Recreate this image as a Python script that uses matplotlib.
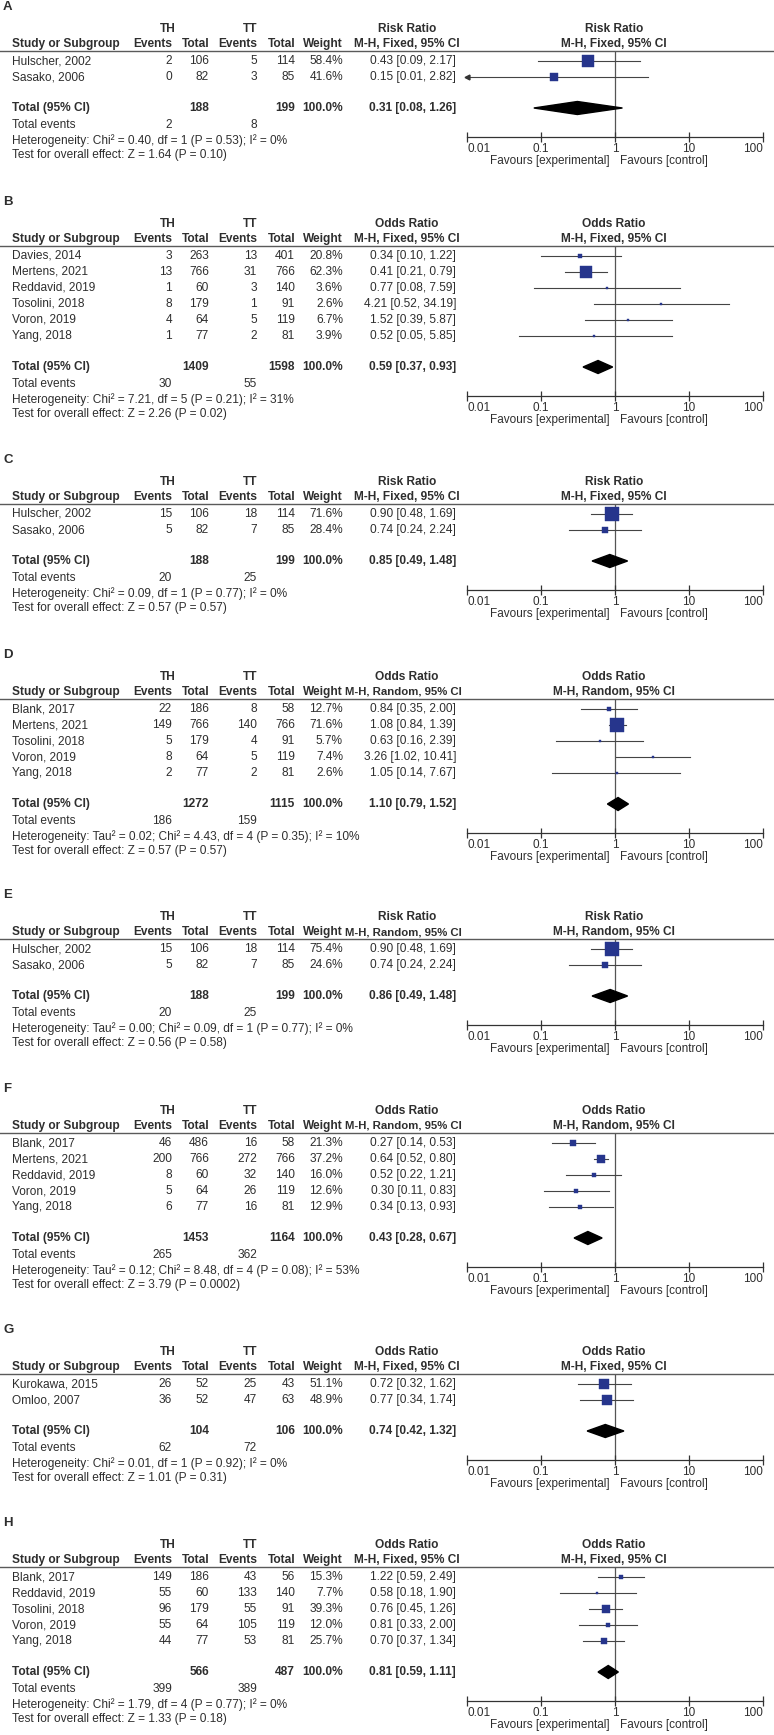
import matplotlib
matplotlib.use("Agg")
import matplotlib.pyplot as plt
from matplotlib.lines import Line2D
from matplotlib.patches import Polygon
from matplotlib.ticker import NullLocator

# ---- data (A-H) ----
a_studies = ["Hulscher, 2002", "Sasako, 2006"]
a_th_events = [2, 0]
a_th_total = [106, 82]
a_tt_events = [5, 3]
a_tt_total = [114, 85]
a_weight = [58.4, 41.6]
a_est = [0.43, 0.15]
a_lo = [0.09, 0.01]
a_hi = [2.17, 2.82]
a_totals = [188, 199]
a_total_events = [2, 8]
a_summary = [0.31, 0.08, 1.26]
a_het = "Heterogeneity: Chi² = 0.40, df = 1 (P = 0.53); I² = 0%"
a_test = "Test for overall effect: Z = 1.64 (P = 0.10)"

b_studies = ["Davies, 2014", "Mertens, 2021", "Reddavid, 2019", "Tosolini, 2018", "Voron, 2019", "Yang, 2018"]
b_th_events = [3, 13, 1, 8, 4, 1]
b_th_total = [263, 766, 60, 179, 64, 77]
b_tt_events = [13, 31, 3, 1, 5, 2]
b_tt_total = [401, 766, 140, 91, 119, 81]
b_weight = [20.8, 62.3, 3.6, 2.6, 6.7, 3.9]
b_est = [0.34, 0.41, 0.77, 4.21, 1.52, 0.52]
b_lo = [0.10, 0.21, 0.08, 0.52, 0.39, 0.05]
b_hi = [1.22, 0.79, 7.59, 34.19, 5.87, 5.85]
b_totals = [1409, 1598]
b_total_events = [30, 55]
b_summary = [0.59, 0.37, 0.93]
b_het = "Heterogeneity: Chi² = 7.21, df = 5 (P = 0.21); I² = 31%"
b_test = "Test for overall effect: Z = 2.26 (P = 0.02)"

c_studies = ["Hulscher, 2002", "Sasako, 2006"]
c_th_events = [15, 5]
c_th_total = [106, 82]
c_tt_events = [18, 7]
c_tt_total = [114, 85]
c_weight = [71.6, 28.4]
c_est = [0.90, 0.74]
c_lo = [0.48, 0.24]
c_hi = [1.69, 2.24]
c_totals = [188, 199]
c_total_events = [20, 25]
c_summary = [0.85, 0.49, 1.48]
c_het = "Heterogeneity: Chi² = 0.09, df = 1 (P = 0.77); I² = 0%"
c_test = "Test for overall effect: Z = 0.57 (P = 0.57)"

d_studies = ["Blank, 2017", "Mertens, 2021", "Tosolini, 2018", "Voron, 2019", "Yang, 2018"]
d_th_events = [22, 149, 5, 8, 2]
d_th_total = [186, 766, 179, 64, 77]
d_tt_events = [8, 140, 4, 5, 2]
d_tt_total = [58, 766, 91, 119, 81]
d_weight = [12.7, 71.6, 5.7, 7.4, 2.6]
d_est = [0.84, 1.08, 0.63, 3.26, 1.05]
d_lo = [0.35, 0.84, 0.16, 1.02, 0.14]
d_hi = [2.00, 1.39, 2.39, 10.41, 7.67]
d_totals = [1272, 1115]
d_total_events = [186, 159]
d_summary = [1.10, 0.79, 1.52]
d_het = "Heterogeneity: Tau² = 0.02; Chi² = 4.43, df = 4 (P = 0.35); I² = 10%"
d_test = "Test for overall effect: Z = 0.57 (P = 0.57)"

e_studies = ["Hulscher, 2002", "Sasako, 2006"]
e_th_events = [15, 5]
e_th_total = [106, 82]
e_tt_events = [18, 7]
e_tt_total = [114, 85]
e_weight = [75.4, 24.6]
e_est = [0.90, 0.74]
e_lo = [0.48, 0.24]
e_hi = [1.69, 2.24]
e_totals = [188, 199]
e_total_events = [20, 25]
e_summary = [0.86, 0.49, 1.48]
e_het = "Heterogeneity: Tau² = 0.00; Chi² = 0.09, df = 1 (P = 0.77); I² = 0%"
e_test = "Test for overall effect: Z = 0.56 (P = 0.58)"

f_studies = ["Blank, 2017", "Mertens, 2021", "Reddavid, 2019", "Voron, 2019", "Yang, 2018"]
f_th_events = [46, 200, 8, 5, 6]
f_th_total = [486, 766, 60, 64, 77]
f_tt_events = [16, 272, 32, 26, 16]
f_tt_total = [58, 766, 140, 119, 81]
f_weight = [21.3, 37.2, 16.0, 12.6, 12.9]
f_est = [0.27, 0.64, 0.52, 0.30, 0.34]
f_lo = [0.14, 0.52, 0.22, 0.11, 0.13]
f_hi = [0.53, 0.80, 1.21, 0.83, 0.93]
f_totals = [1453, 1164]
f_total_events = [265, 362]
f_summary = [0.43, 0.28, 0.67]
f_het = "Heterogeneity: Tau² = 0.12; Chi² = 8.48, df = 4 (P = 0.08); I² = 53%"
f_test = "Test for overall effect: Z = 3.79 (P = 0.0002)"

g_studies = ["Kurokawa, 2015", "Omloo, 2007"]
g_th_events = [26, 36]
g_th_total = [52, 52]
g_tt_events = [25, 47]
g_tt_total = [43, 63]
g_weight = [51.1, 48.9]
g_est = [0.72, 0.77]
g_lo = [0.32, 0.34]
g_hi = [1.62, 1.74]
g_totals = [104, 106]
g_total_events = [62, 72]
g_summary = [0.74, 0.42, 1.32]
g_het = "Heterogeneity: Chi² = 0.01, df = 1 (P = 0.92); I² = 0%"
g_test = "Test for overall effect: Z = 1.01 (P = 0.31)"

h_studies = ["Blank, 2017", "Reddavid, 2019", "Tosolini, 2018", "Voron, 2019", "Yang, 2018"]
h_th_events = [149, 55, 96, 55, 44]
h_th_total = [186, 60, 179, 64, 77]
h_tt_events = [43, 133, 55, 105, 53]
h_tt_total = [56, 140, 91, 119, 81]
h_weight = [15.3, 7.7, 39.3, 12.0, 25.7]
h_est = [1.22, 0.58, 0.76, 0.81, 0.70]
h_lo = [0.59, 0.18, 0.45, 0.33, 0.37]
h_hi = [2.49, 1.90, 1.26, 2.00, 1.34]
h_totals = [566, 487]
h_total_events = [399, 389]
h_summary = [0.81, 0.59, 1.11]
h_het = "Heterogeneity: Chi² = 1.79, df = 4 (P = 0.77); I² = 0%"
h_test = "Test for overall effect: Z = 1.33 (P = 0.18)"

panel_labels = ["A", "B", "C", "D", "E", "F", "G", "H"]
measures = ["Risk Ratio", "Odds Ratio", "Risk Ratio", "Odds Ratio",
            "Risk Ratio", "Odds Ratio", "Odds Ratio", "Odds Ratio"]
models = ["Fixed", "Fixed", "Fixed", "Random", "Random", "Random", "Fixed", "Fixed"]

panels = [
    (a_studies, a_th_events, a_th_total, a_tt_events, a_tt_total, a_weight, a_est, a_lo, a_hi,
     a_totals, a_total_events, a_summary, a_het, a_test),
    (b_studies, b_th_events, b_th_total, b_tt_events, b_tt_total, b_weight, b_est, b_lo, b_hi,
     b_totals, b_total_events, b_summary, b_het, b_test),
    (c_studies, c_th_events, c_th_total, c_tt_events, c_tt_total, c_weight, c_est, c_lo, c_hi,
     c_totals, c_total_events, c_summary, c_het, c_test),
    (d_studies, d_th_events, d_th_total, d_tt_events, d_tt_total, d_weight, d_est, d_lo, d_hi,
     d_totals, d_total_events, d_summary, d_het, d_test),
    (e_studies, e_th_events, e_th_total, e_tt_events, e_tt_total, e_weight, e_est, e_lo, e_hi,
     e_totals, e_total_events, e_summary, e_het, e_test),
    (f_studies, f_th_events, f_th_total, f_tt_events, f_tt_total, f_weight, f_est, f_lo, f_hi,
     f_totals, f_total_events, f_summary, f_het, f_test),
    (g_studies, g_th_events, g_th_total, g_tt_events, g_tt_total, g_weight, g_est, g_lo, g_hi,
     g_totals, g_total_events, g_summary, g_het, g_test),
    (h_studies, h_th_events, h_th_total, h_tt_events, h_tt_total, h_weight, h_est, h_lo, h_hi,
     h_totals, h_total_events, h_summary, h_het, h_test),
]

# ---- layout (pixels) ----
W, H = 774, 1735
DPI = 100
panel_tops = [7, 202, 460, 655, 895, 1089, 1330, 1523]
TXT = "#2e2e2e"
BLUE = "#26358c"
FS = 8.6

plt.rcParams['font.family'] = ['Liberation Sans', 'DejaVu Sans']
fig = plt.figure(figsize=(W / DPI, H / DPI), dpi=DPI)


def fx(px):
    return px / W


def fy(py):
    return 1 - py / H


def put(x, y, s, ha="left", bold=False, size=FS):
    fig.text(fx(x), fy(y), s, ha=ha, va="center", fontsize=size, color=TXT,
             fontweight="bold" if bold else "normal")


X_EV1, X_TOT1, X_EV2, X_TOT2, X_WT = 172, 209, 257, 295, 343
X_CI_HEAD, X_CI_VAL = 407, 456
PX0, PX1 = 467, 763

for k, p in enumerate(panels):
    (studies, th_ev, th_tot, tt_ev, tt_tot, wt, est, lo, hi,
     totals, tot_events, summ, het, test) = p
    L = panel_tops[k]
    n = len(studies)
    measure = measures[k]
    method = "M-H, %s, 95%% CI" % models[k]

    put(3, L, panel_labels[k], bold=True, size=9.5)
    # headers
    put(168, L + 22, "TH", ha="center", bold=True)
    put(250, L + 22, "TT", ha="center", bold=True)
    put(X_CI_HEAD, L + 22, measure, ha="center", bold=True)
    put(614, L + 22, measure, ha="center", bold=True)
    put(12, L + 37, "Study or Subgroup", bold=True)
    put(X_EV1, L + 37, "Events", ha="right", bold=True)
    put(X_TOT1, L + 37, "Total", ha="right", bold=True)
    put(X_EV2, L + 37, "Events", ha="right", bold=True)
    put(X_TOT2, L + 37, "Total", ha="right", bold=True)
    put(X_WT, L + 37, "Weight", ha="right", bold=True)
    if models[k] == "Random":
        put(X_CI_VAL + 6, L + 37, method, ha="right", bold=True, size=8.2)
    else:
        put(X_CI_HEAD, L + 37, method, ha="center", bold=True)
    put(614, L + 37, method, ha="center", bold=True)
    fig.add_artist(Line2D([0, 1], [fy(L + 44), fy(L + 44)], color="#5a5a5a", lw=1.0))

    for i in range(n):
        y = L + 54 + 16 * i
        put(12, y, studies[i])
        put(X_EV1, y, str(th_ev[i]), ha="right")
        put(X_TOT1, y, str(th_tot[i]), ha="right")
        put(X_EV2, y, str(tt_ev[i]), ha="right")
        put(X_TOT2, y, str(tt_tot[i]), ha="right")
        put(X_WT, y, "%.1f%%" % wt[i], ha="right")
        put(X_CI_VAL, y, "%.2f [%.2f, %.2f]" % (est[i], lo[i], hi[i]), ha="right")

    ty = L + 54 + 16 * (n - 1) + 31
    put(12, ty, "Total (95% CI)", bold=True)
    put(X_TOT1, ty, str(totals[0]), ha="right", bold=True)
    put(X_TOT2, ty, str(totals[1]), ha="right", bold=True)
    put(X_WT, ty, "100.0%", ha="right", bold=True)
    put(X_CI_VAL, ty, "%.2f [%.2f, %.2f]" % tuple(summ), ha="right", bold=True)
    put(12, ty + 17, "Total events")
    put(X_EV1, ty + 17, str(tot_events[0]), ha="right")
    put(X_EV2, ty + 17, str(tot_events[1]), ha="right")
    put(12, ty + 33, het)
    put(12, ty + 47, test)

    # forest plot axes: y measured in pixel offsets from the panel top
    y_top, y_axis = 44, ty - L + 29
    ax = fig.add_axes([fx(PX0), fy(L + y_axis), (PX1 - PX0) / W, (y_axis - y_top) / H])
    ax.set_xscale("log")
    ax.set_xlim(0.01, 100)
    ax.set_ylim(y_axis, y_top)
    ax.patch.set_alpha(0)
    for s in ["top", "left", "right"]:
        ax.spines[s].set_visible(False)
    ax.spines["bottom"].set_color("#333333")
    ax.spines["bottom"].set_linewidth(0.9)
    ax.set_yticks([])
    ax.xaxis.set_minor_locator(NullLocator())
    ax.set_xticks([0.01, 0.1, 1, 10, 100])
    ax.set_xticklabels(["0.01", "0.1", "1", "10", "100"])
    ax.tick_params(axis="x", direction="inout", length=7, width=0.9, colors="#333333",
                   labelsize=8.5, pad=1, labelcolor=TXT)
    tl = ax.get_xticklabels()
    tl[0].set_ha("left")
    tl[-1].set_ha("right")
    ax.axvline(1, color="#555555", lw=0.9, zorder=1)

    for i in range(n):
        y = 54 + 16 * i
        x0 = max(lo[i], 0.01)
        x1 = min(hi[i], 100)
        ax.plot([x0, x1], [y, y], color="#444444", lw=0.8, zorder=2, clip_on=False)
        if lo[i] <= 0.01:
            ax.plot(0.01, y, marker="<", ms=3.5, color="#333333", clip_on=False, zorder=3)
        side = max(0.44 * wt[i] ** 0.8, 2.3) * 0.72
        ax.plot(est[i], y, marker="s", ms=side, color=BLUE, mec=BLUE, mew=0.3, zorder=4)

    dy = ty - L
    ax.add_patch(Polygon([(summ[1], dy), (summ[0], dy - 6.5), (summ[2], dy), (summ[0], dy + 6.5)],
                         closed=True, color="black", zorder=5))

    ax.annotate("Favours [experimental]", xy=(1, 0), xycoords=("data", "axes fraction"),
                xytext=(-5, -24), textcoords="offset pixels", ha="right", va="center",
                fontsize=8.5, color=TXT)
    ax.annotate("Favours [control]", xy=(1, 0), xycoords=("data", "axes fraction"),
                xytext=(5, -24), textcoords="offset pixels", ha="left", va="center",
                fontsize=8.5, color=TXT)

fig.savefig("out.png", dpi=DPI, facecolor="white")
